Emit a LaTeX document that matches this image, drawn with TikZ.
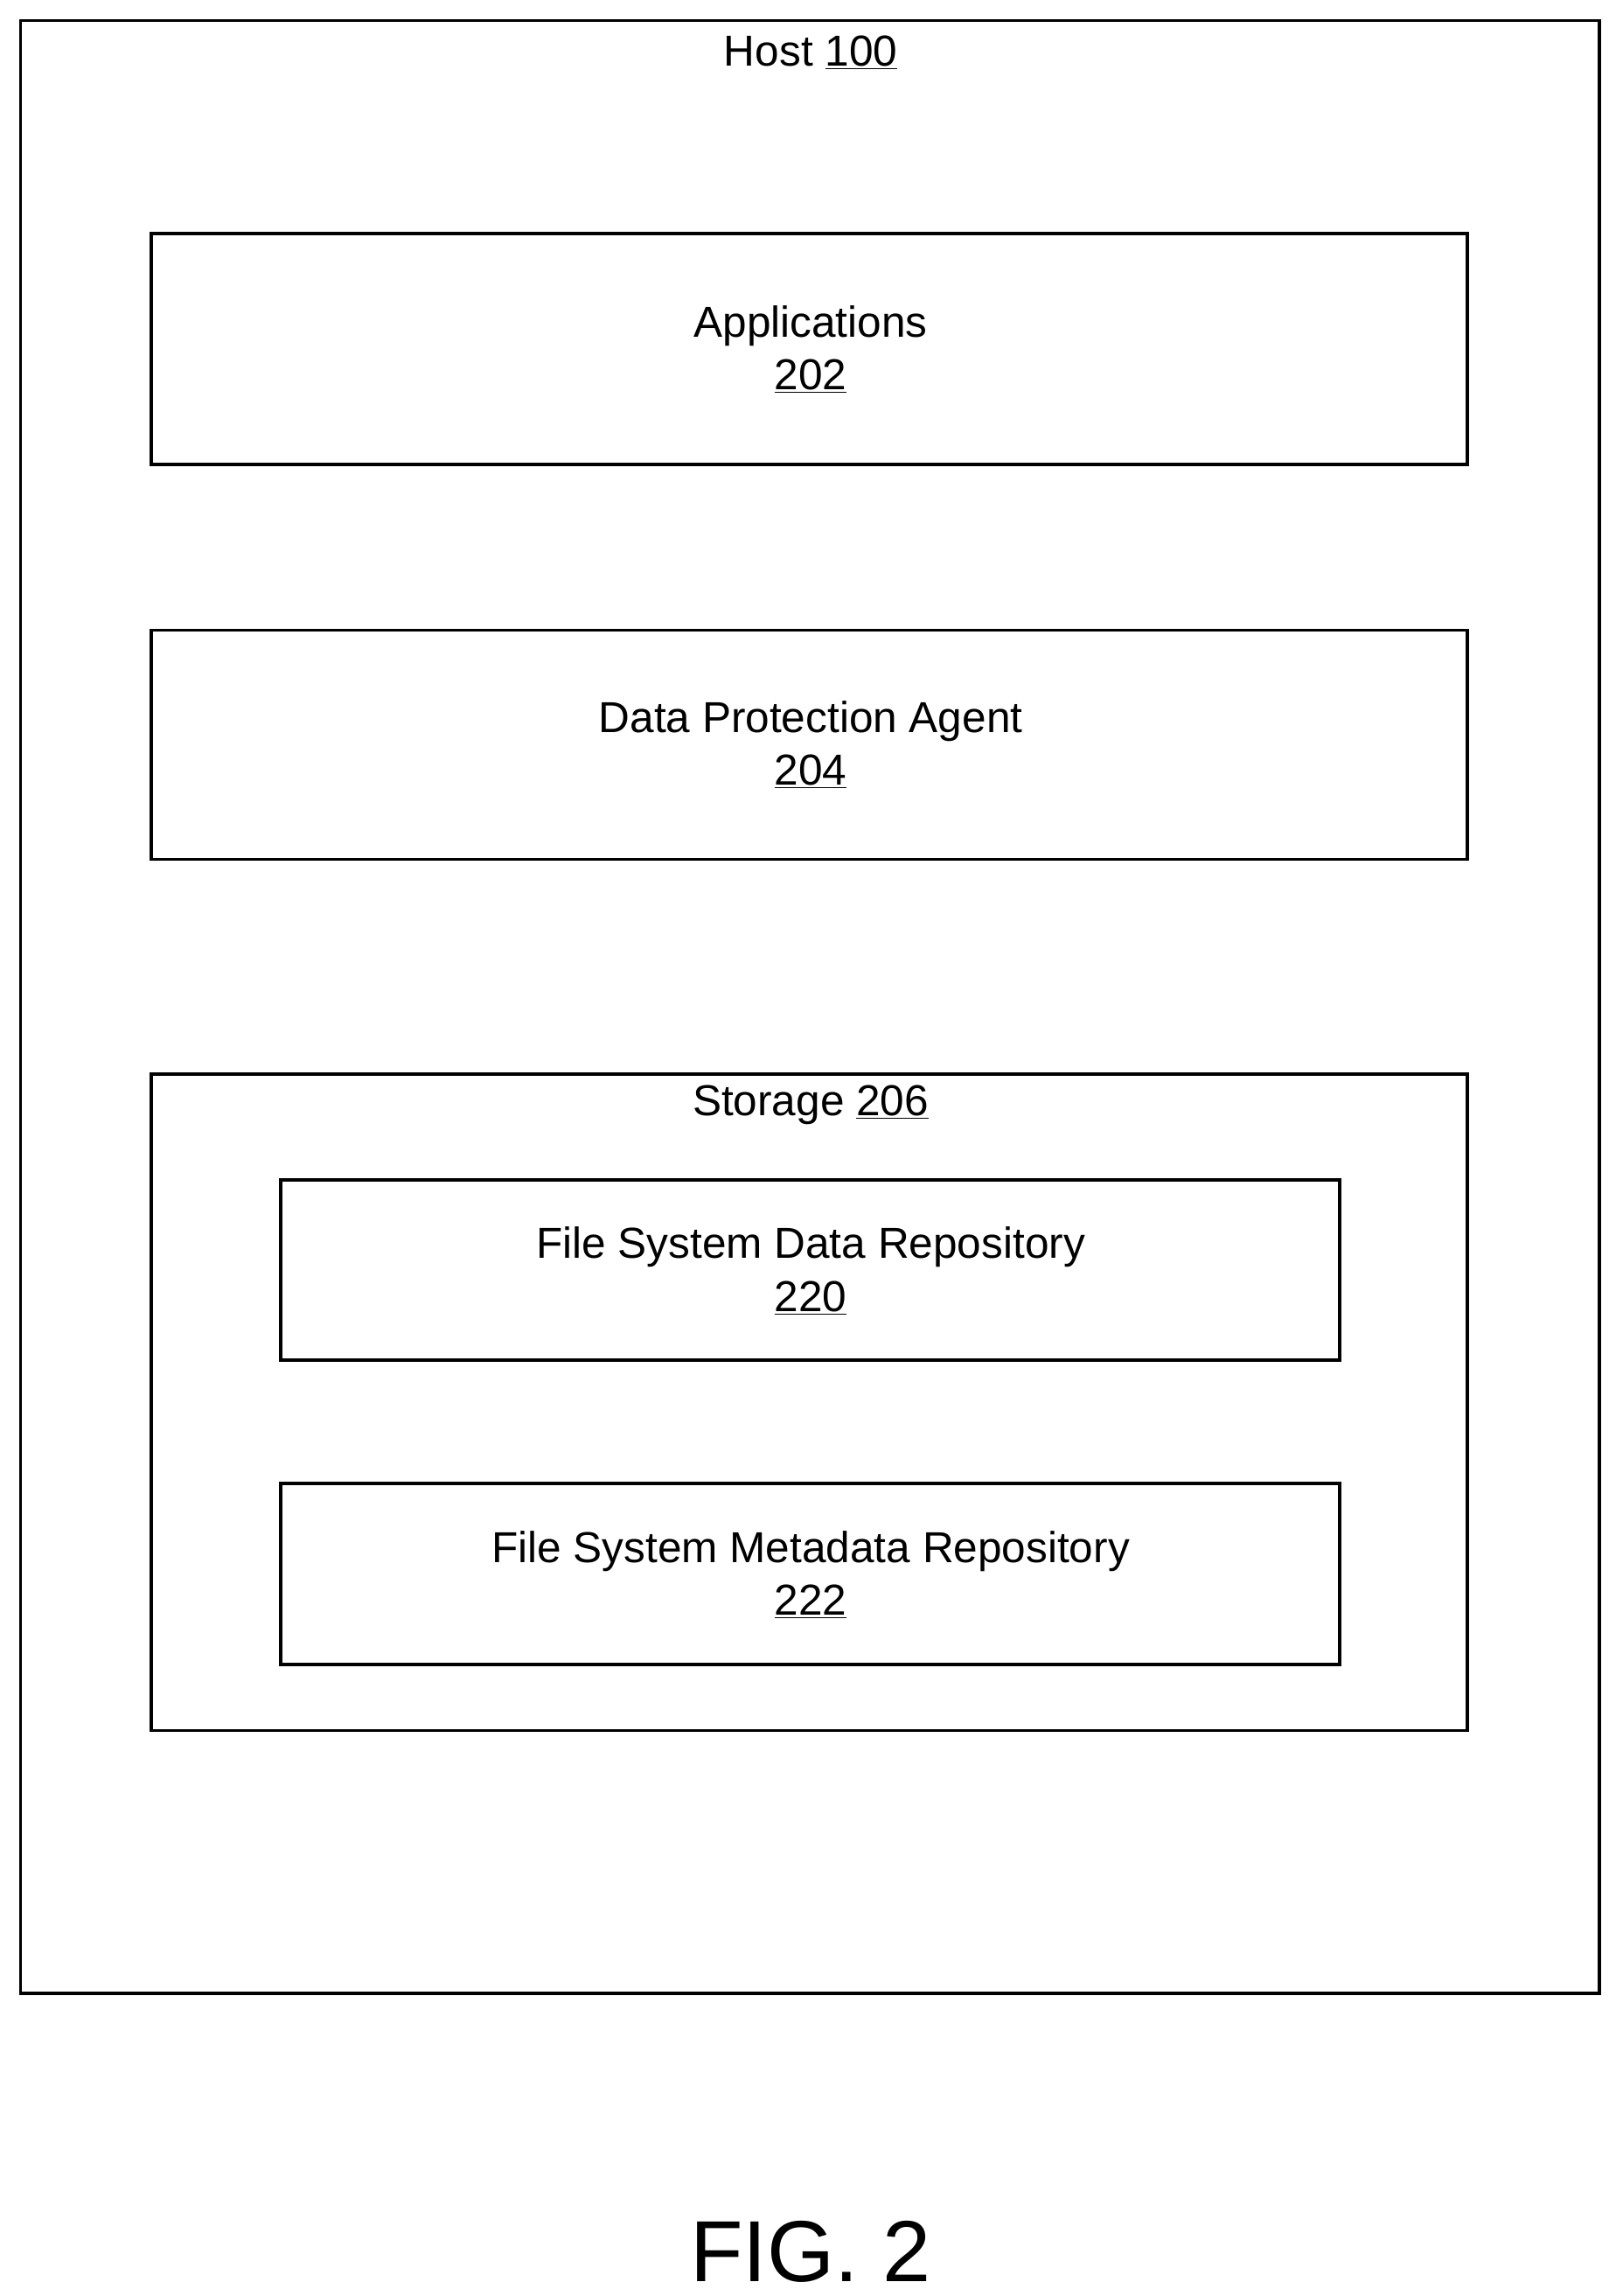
\documentclass[tikz,border=0pt]{standalone}
\usepackage{fontspec}
\setmainfont{Liberation Sans}
\begin{document}
\begin{tikzpicture}[x=1pt,y=-1pt,
  box/.style={draw=black,line width=2.3pt},
  lbl/.style={font=\fontsize{29.5}{36}\selectfont,align=center,inner sep=0}]
\useasboundingbox (0,0) rectangle (1100,1563);
\draw[box] (14,14) rectangle (1089,1357);
\node[lbl] (host) at (552,36) {Host \underline{100}};
\draw[box] (103,159) rectangle (999,316);
\node[lbl] (app) at (552,238) {Applications\\\underline{202}};
\draw[box] (103,429) rectangle (999,585);
\node[lbl] (dpa) at (552,507) {Data Protection Agent\\\underline{204}};
\draw[box] (103,731) rectangle (999,1178);
\node[lbl] (sto) at (552,752) {Storage \underline{206}};
\draw[box] (191,803) rectangle (912,926);
\node[lbl] (fsd) at (552,865) {File System Data Repository\\\underline{220}};
\draw[box] (191,1010) rectangle (912,1133);
\node[lbl] (fsm) at (552,1072) {File System Metadata Repository\\\underline{222}};
\node[font=\fontsize{59}{60}\selectfont,inner sep=0] (fig) at (552,1533) {FIG. 2};
\end{tikzpicture}
\end{document}
